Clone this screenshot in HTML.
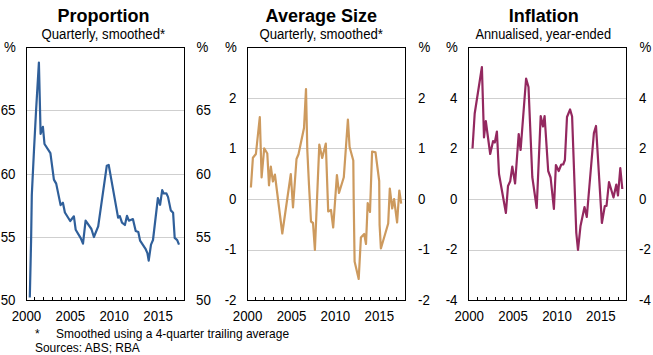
<!DOCTYPE html><html><head><meta charset="utf-8"><style>html,body{margin:0;padding:0;background:#fff;}svg{display:block}text{font-family:"Liberation Sans", sans-serif;fill:#000}</style></head><body>
<svg width="653" height="355" viewBox="0 0 653 355">
<text x="103.50" y="21.50" font-size="18" font-weight="bold" text-anchor="middle">Proportion</text>
<text transform="translate(103.30,39.00) scale(1,1.1)" font-size="13.2" text-anchor="middle">Quarterly, smoothed*</text>
<text transform="translate(10.00,52.00) scale(1,1.1)" font-size="13.3" text-anchor="middle">%</text>
<text transform="translate(202.30,52.00) scale(1,1.1)" font-size="13.3" text-anchor="middle">%</text>
<rect x="27" y="237" width="157" height="1" fill="#cfcfcf"/>
<rect x="27" y="174" width="157" height="1" fill="#cfcfcf"/>
<rect x="27" y="110" width="157" height="1" fill="#cfcfcf"/>
<text transform="translate(15.50,305.00) scale(1,1.1)" font-size="13.3" text-anchor="end">50</text>
<text transform="translate(196.10,305.00) scale(1,1.1)" font-size="13.3">50</text>
<text transform="translate(15.50,241.75) scale(1,1.1)" font-size="13.3" text-anchor="end">55</text>
<text transform="translate(196.10,241.75) scale(1,1.1)" font-size="13.3">55</text>
<text transform="translate(15.50,178.50) scale(1,1.1)" font-size="13.3" text-anchor="end">60</text>
<text transform="translate(196.10,178.50) scale(1,1.1)" font-size="13.3">60</text>
<text transform="translate(15.50,115.25) scale(1,1.1)" font-size="13.3" text-anchor="end">65</text>
<text transform="translate(196.10,115.25) scale(1,1.1)" font-size="13.3">65</text>
<rect x="34" y="297" width="1" height="3" fill="#000"/>
<rect x="43" y="297" width="1" height="3" fill="#000"/>
<rect x="52" y="297" width="1" height="3" fill="#000"/>
<rect x="61" y="297" width="1" height="3" fill="#000"/>
<rect x="70" y="297" width="1" height="3" fill="#000"/>
<rect x="78" y="297" width="1" height="3" fill="#000"/>
<rect x="87" y="297" width="1" height="3" fill="#000"/>
<rect x="96" y="297" width="1" height="3" fill="#000"/>
<rect x="105" y="297" width="1" height="3" fill="#000"/>
<rect x="113" y="297" width="1" height="3" fill="#000"/>
<rect x="122" y="297" width="1" height="3" fill="#000"/>
<rect x="131" y="297" width="1" height="3" fill="#000"/>
<rect x="140" y="297" width="1" height="3" fill="#000"/>
<rect x="149" y="297" width="1" height="3" fill="#000"/>
<rect x="157" y="297" width="1" height="3" fill="#000"/>
<rect x="166" y="297" width="1" height="3" fill="#000"/>
<rect x="175" y="297" width="1" height="3" fill="#000"/>
<text transform="translate(26.40,321.00) scale(1,1.1)" font-size="13.3" text-anchor="middle">2000</text>
<text transform="translate(70.29,321.00) scale(1,1.1)" font-size="13.3" text-anchor="middle">2005</text>
<text transform="translate(114.18,321.00) scale(1,1.1)" font-size="13.3" text-anchor="middle">2010</text>
<text transform="translate(158.07,321.00) scale(1,1.1)" font-size="13.3" text-anchor="middle">2015</text>
<polyline points="29.8,297.5 31.1,240.0 31.8,195.0 34.0,150.0 36.1,110.0 38.9,62.5 40.6,133.9 42.9,126.8 44.5,144.0 50.4,153.2 53.9,179.6 56.2,183.6 60.6,205.1 62.9,202.7 64.9,212.5 70.2,221.0 73.9,216.3 75.7,229.8 80.7,238.1 83.0,243.7 85.6,220.6 91.4,229.0 93.9,237.0 98.2,226.3 106.8,165.7 108.7,164.9 118.1,217.6 119.8,216.1 122.0,222.7 124.9,225.0 127.0,215.8 128.9,220.7 132.9,219.1 135.7,230.9 138.3,232.0 140.1,240.7 145.7,249.2 147.4,253.1 148.7,260.6 151.0,244.6 153.0,240.0 157.9,198.0 160.1,204.8 162.2,190.1 163.7,193.5 166.3,193.3 168.0,196.9 170.8,210.4 173.1,212.7 174.7,237.9 177.2,240.1 179.0,244.6" fill="none" stroke="#2f5f9a" stroke-width="2.2" stroke-linejoin="round" stroke-linecap="butt"/>
<rect x="26" y="47" width="1" height="254" fill="#000"/>
<rect x="184" y="47" width="1" height="254" fill="#000"/>
<rect x="26" y="47" width="159" height="1" fill="#000"/>
<rect x="26" y="300" width="159" height="1" fill="#000"/>
<text x="321.25" y="21.50" font-size="18" font-weight="bold" text-anchor="middle">Average Size</text>
<text transform="translate(321.20,39.00) scale(1,1.1)" font-size="13.2" text-anchor="middle">Quarterly, smoothed*</text>
<text transform="translate(231.00,52.00) scale(1,1.1)" font-size="13.3" text-anchor="middle">%</text>
<text transform="translate(424.30,52.00) scale(1,1.1)" font-size="13.3" text-anchor="middle">%</text>
<rect x="248" y="250" width="157" height="1" fill="#cfcfcf"/>
<rect x="248" y="199" width="157" height="1" fill="#cfcfcf"/>
<rect x="248" y="148" width="157" height="1" fill="#cfcfcf"/>
<rect x="248" y="98" width="157" height="1" fill="#cfcfcf"/>
<text transform="translate(236.50,305.00) scale(1,1.1)" font-size="13.3" text-anchor="end">-2</text>
<text transform="translate(418.10,305.00) scale(1,1.1)" font-size="13.3">-2</text>
<text transform="translate(236.50,254.40) scale(1,1.1)" font-size="13.3" text-anchor="end">-1</text>
<text transform="translate(418.10,254.40) scale(1,1.1)" font-size="13.3">-1</text>
<text transform="translate(236.50,203.80) scale(1,1.1)" font-size="13.3" text-anchor="end">0</text>
<text transform="translate(418.10,203.80) scale(1,1.1)" font-size="13.3">0</text>
<text transform="translate(236.50,153.20) scale(1,1.1)" font-size="13.3" text-anchor="end">1</text>
<text transform="translate(418.10,153.20) scale(1,1.1)" font-size="13.3">1</text>
<text transform="translate(236.50,102.60) scale(1,1.1)" font-size="13.3" text-anchor="end">2</text>
<text transform="translate(418.10,102.60) scale(1,1.1)" font-size="13.3">2</text>
<rect x="255" y="297" width="1" height="3" fill="#000"/>
<rect x="264" y="297" width="1" height="3" fill="#000"/>
<rect x="273" y="297" width="1" height="3" fill="#000"/>
<rect x="282" y="297" width="1" height="3" fill="#000"/>
<rect x="291" y="297" width="1" height="3" fill="#000"/>
<rect x="300" y="297" width="1" height="3" fill="#000"/>
<rect x="308" y="297" width="1" height="3" fill="#000"/>
<rect x="317" y="297" width="1" height="3" fill="#000"/>
<rect x="326" y="297" width="1" height="3" fill="#000"/>
<rect x="335" y="297" width="1" height="3" fill="#000"/>
<rect x="344" y="297" width="1" height="3" fill="#000"/>
<rect x="352" y="297" width="1" height="3" fill="#000"/>
<rect x="361" y="297" width="1" height="3" fill="#000"/>
<rect x="370" y="297" width="1" height="3" fill="#000"/>
<rect x="379" y="297" width="1" height="3" fill="#000"/>
<rect x="388" y="297" width="1" height="3" fill="#000"/>
<rect x="396" y="297" width="1" height="3" fill="#000"/>
<text transform="translate(247.60,321.00) scale(1,1.1)" font-size="13.3" text-anchor="middle">2000</text>
<text transform="translate(291.49,321.00) scale(1,1.1)" font-size="13.3" text-anchor="middle">2005</text>
<text transform="translate(335.38,321.00) scale(1,1.1)" font-size="13.3" text-anchor="middle">2010</text>
<text transform="translate(379.27,321.00) scale(1,1.1)" font-size="13.3" text-anchor="middle">2015</text>
<polyline points="250.9,187.5 252.9,157.8 255.9,154.0 259.8,117.0 261.6,177.5 264.2,148.3 267.3,153.5 269.0,185.3 270.8,166.5 272.9,181.5 274.9,174.5 282.3,233.5 290.8,174.0 293.0,207.5 296.5,159.0 298.5,154.3 304.0,128.0 306.0,89.0 307.3,150.0 309.0,185.0 311.0,221.5 313.0,223.0 314.9,250.0 319.3,144.5 322.2,158.0 325.8,143.5 328.2,211.5 331.0,210.0 333.2,227.5 336.9,175.0 339.0,193.0 343.8,177.3 347.9,119.5 349.6,147.0 353.3,160.5 353.7,200.0 354.6,261.5 358.7,279.0 360.9,237.6 364.2,234.0 366.0,244.0 367.7,203.0 370.0,212.0 372.1,151.5 375.5,152.4 379.2,181.0 379.6,225.0 380.9,248.5 388.2,223.5 389.8,188.5 392.2,208.5 394.1,199.0 397.1,222.5 399.3,190.5 401.2,203.7" fill="none" stroke="#cd9a5e" stroke-width="2.2" stroke-linejoin="round" stroke-linecap="butt"/>
<rect x="247" y="47" width="1" height="254" fill="#000"/>
<rect x="405" y="47" width="1" height="254" fill="#000"/>
<rect x="247" y="47" width="159" height="1" fill="#000"/>
<rect x="247" y="300" width="159" height="1" fill="#000"/>
<text x="543.70" y="21.50" font-size="18" font-weight="bold" text-anchor="middle">Inflation</text>
<text transform="translate(543.20,39.00) scale(1,1.1)" font-size="12.85" text-anchor="middle">Annualised, year-ended</text>
<text transform="translate(452.00,52.00) scale(1,1.1)" font-size="13.3" text-anchor="middle">%</text>
<text transform="translate(645.30,52.00) scale(1,1.1)" font-size="13.3" text-anchor="middle">%</text>
<rect x="469" y="250" width="157" height="1" fill="#cfcfcf"/>
<rect x="469" y="199" width="157" height="1" fill="#cfcfcf"/>
<rect x="469" y="148" width="157" height="1" fill="#cfcfcf"/>
<rect x="469" y="98" width="157" height="1" fill="#cfcfcf"/>
<text transform="translate(457.50,305.00) scale(1,1.1)" font-size="13.3" text-anchor="end">-4</text>
<text transform="translate(639.10,305.00) scale(1,1.1)" font-size="13.3">-4</text>
<text transform="translate(457.50,254.40) scale(1,1.1)" font-size="13.3" text-anchor="end">-2</text>
<text transform="translate(639.10,254.40) scale(1,1.1)" font-size="13.3">-2</text>
<text transform="translate(457.50,203.80) scale(1,1.1)" font-size="13.3" text-anchor="end">0</text>
<text transform="translate(639.10,203.80) scale(1,1.1)" font-size="13.3">0</text>
<text transform="translate(457.50,153.20) scale(1,1.1)" font-size="13.3" text-anchor="end">2</text>
<text transform="translate(639.10,153.20) scale(1,1.1)" font-size="13.3">2</text>
<text transform="translate(457.50,102.60) scale(1,1.1)" font-size="13.3" text-anchor="end">4</text>
<text transform="translate(639.10,102.60) scale(1,1.1)" font-size="13.3">4</text>
<rect x="477" y="297" width="1" height="3" fill="#000"/>
<rect x="486" y="297" width="1" height="3" fill="#000"/>
<rect x="495" y="297" width="1" height="3" fill="#000"/>
<rect x="504" y="297" width="1" height="3" fill="#000"/>
<rect x="512" y="297" width="1" height="3" fill="#000"/>
<rect x="521" y="297" width="1" height="3" fill="#000"/>
<rect x="530" y="297" width="1" height="3" fill="#000"/>
<rect x="539" y="297" width="1" height="3" fill="#000"/>
<rect x="547" y="297" width="1" height="3" fill="#000"/>
<rect x="556" y="297" width="1" height="3" fill="#000"/>
<rect x="565" y="297" width="1" height="3" fill="#000"/>
<rect x="574" y="297" width="1" height="3" fill="#000"/>
<rect x="583" y="297" width="1" height="3" fill="#000"/>
<rect x="591" y="297" width="1" height="3" fill="#000"/>
<rect x="600" y="297" width="1" height="3" fill="#000"/>
<rect x="609" y="297" width="1" height="3" fill="#000"/>
<rect x="618" y="297" width="1" height="3" fill="#000"/>
<text transform="translate(469.20,321.00) scale(1,1.1)" font-size="13.3" text-anchor="middle">2000</text>
<text transform="translate(513.09,321.00) scale(1,1.1)" font-size="13.3" text-anchor="middle">2005</text>
<text transform="translate(556.98,321.00) scale(1,1.1)" font-size="13.3" text-anchor="middle">2010</text>
<text transform="translate(600.87,321.00) scale(1,1.1)" font-size="13.3" text-anchor="middle">2015</text>
<polyline points="472.5,148.5 474.7,113.5 481.9,67.0 484.0,137.5 485.8,121.0 490.2,154.0 493.1,141.0 494.8,142.5 496.9,131.5 499.0,174.0 505.9,213.0 508.0,186.0 510.2,181.3 512.3,166.5 515.1,183.5 518.7,134.0 520.6,150.0 526.1,78.5 528.5,87.0 532.3,177.0 536.7,208.0 540.7,116.0 543.0,126.5 544.6,116.0 548.2,171.0 550.6,177.5 553.9,209.0 555.9,165.0 558.7,171.0 561.3,164.5 563.2,164.5 564.9,160.0 567.0,117.0 570.1,109.5 572.1,116.5 576.3,233.0 578.0,250.0 580.5,226.0 584.5,207.0 586.8,217.0 593.9,133.0 596.0,126.0 601.9,223.0 604.8,206.0 606.5,206.0 609.0,182.0 613.5,197.5 616.3,184.5 618.0,195.5 620.3,168.0 622.3,189.0" fill="none" stroke="#93285f" stroke-width="2.2" stroke-linejoin="round" stroke-linecap="butt"/>
<rect x="468" y="47" width="1" height="254" fill="#000"/>
<rect x="626" y="47" width="1" height="254" fill="#000"/>
<rect x="468" y="47" width="159" height="1" fill="#000"/>
<rect x="468" y="300" width="159" height="1" fill="#000"/>
<text x="35.00" y="338.00" font-size="11.95">*</text>
<text x="56.10" y="338.00" font-size="11.95">Smoothed using a 4-quarter trailing average</text>
<text x="35.00" y="352.00" font-size="11.95">Sources: ABS; RBA</text>
</svg></body></html>
